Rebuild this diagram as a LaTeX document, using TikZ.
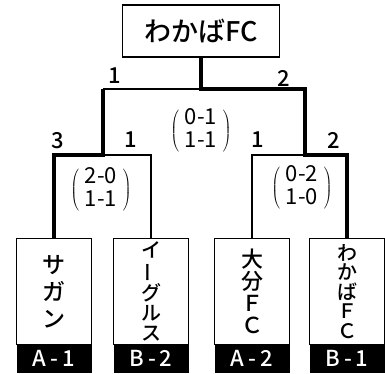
\documentclass[tikz,border=0pt]{standalone}
\usepackage{fontspec}
\setmainfont{Noto Sans CJK JP}
\newfontfamily\medfont{Noto Sans CJK JP Medium}
\usepackage{graphicx}
\usetikzlibrary{positioning}
\tikzset{
        win line/.style={line width=3.6pt}, % path of the team that went on
        lose line/.style={line width=1.3pt},
        team box/.style={
		draw,
		line width=1.2pt,
		minimum width=75pt,
		minimum height=106pt,
		inner sep=0pt,
		align=center,
		anchor=north,
	  },
        tag box/.style={
		fill=black,
		text=white,
		minimum width=75pt,
		minimum height=28pt,
		inner sep=0pt,
		font=\fontsize{22}{22}\selectfont\medfont,
	  },
        pts/.style={inner sep=0pt, font=\fontsize{22}{22}\selectfont\medfont},
        score/.style={inner sep=0pt, font=\fontsize{22}{23}\selectfont},
    }
\newcommand{\longbar}{\rotatebox[origin=c]{90}{ー}}
\newcommand{\pair}[2]{$\left(\;\begin{tabular}{@{}c@{}}#1\\#2\end{tabular}\;\right)$}
\newcommand{\tagtext}[2]{#1\hspace{4pt}-\hspace{4pt}#2}

\begin{document}
\begin{tikzpicture}[x=1pt, y=-1pt, node distance=-0.6pt]
    \useasboundingbox (0,0) rectangle (385,374);
    % winner on top
    \node [draw, line width=1.2pt, minimum width=157pt, minimum height=52pt,
           font=\fontsize{27}{27}\selectfont\medfont] (champ) at (201,31) {わかばFC};
    % the four teams
    \node [team box, font=\fontsize{23}{27}\selectfont\medfont] (sagan) at (54,238) {サ\\ガ\\ン};
    \node [team box, font=\fontsize{20}{20}\selectfont\medfont] (eagles) at (151,238) {イ\\\longbar\\グ\\ル\\ス};
    \node [team box, font=\fontsize{22}{22}\selectfont\medfont] (oita) at (252,238) {大\\分\\Ｆ\\Ｃ};
    \node [team box, font=\fontsize{20}{19.5}\selectfont\medfont] (wakaba) at (347,238) {わ\\か\\ば\\Ｆ\\Ｃ};
    \node [tag box, below=of sagan] (sagan tag) {\tagtext{A}{1}};
    \node [tag box, below=of eagles] (eagles tag) {\tagtext{B}{2}};
    \node [tag box, below=of oita] (oita tag) {\tagtext{A}{2}};
    \node [tag box, below=of wakaba] (wakaba tag) {\tagtext{B}{1}};
    % bracket corners
    \coordinate (f) at (201,89);
    \coordinate (sl) at (103,89);
    \coordinate (sr) at (305,89);
    \coordinate (ml) at (103,155);
    \coordinate (mr) at (305,155);
    \draw [lose line] (sl) -- (f);
    \draw [lose line] (ml) -| (eagles.north);
    \draw [lose line] (mr) -| (oita.north);
    \draw [win line] (sagan.north) |- (ml) -- (sl);
    \draw [win line] (wakaba.north) |- (mr) -- (sr) -- (f) -- (champ.south);
    % goals
    \node [pts] (g1) at (115,76) {1};
    \node [pts] (g2) at (284,78) {2};
    \node [pts] (g3) at (58,141) {3};
    \node [pts] (g4) at (131,140) {1};
    \node [pts] (g5) at (258,140) {1};
    \node [pts] (g6) at (334,140) {2};
    % half scores
    \node [score] (final score) at (201,131) {\pair{0-1}{1-1}};
    \node [score] (left score) at (101,190) {\pair{2-0}{1-1}};
    \node [score] (right score) at (302,188) {\pair{0-2}{1-0}};
\end{tikzpicture}
\end{document}
